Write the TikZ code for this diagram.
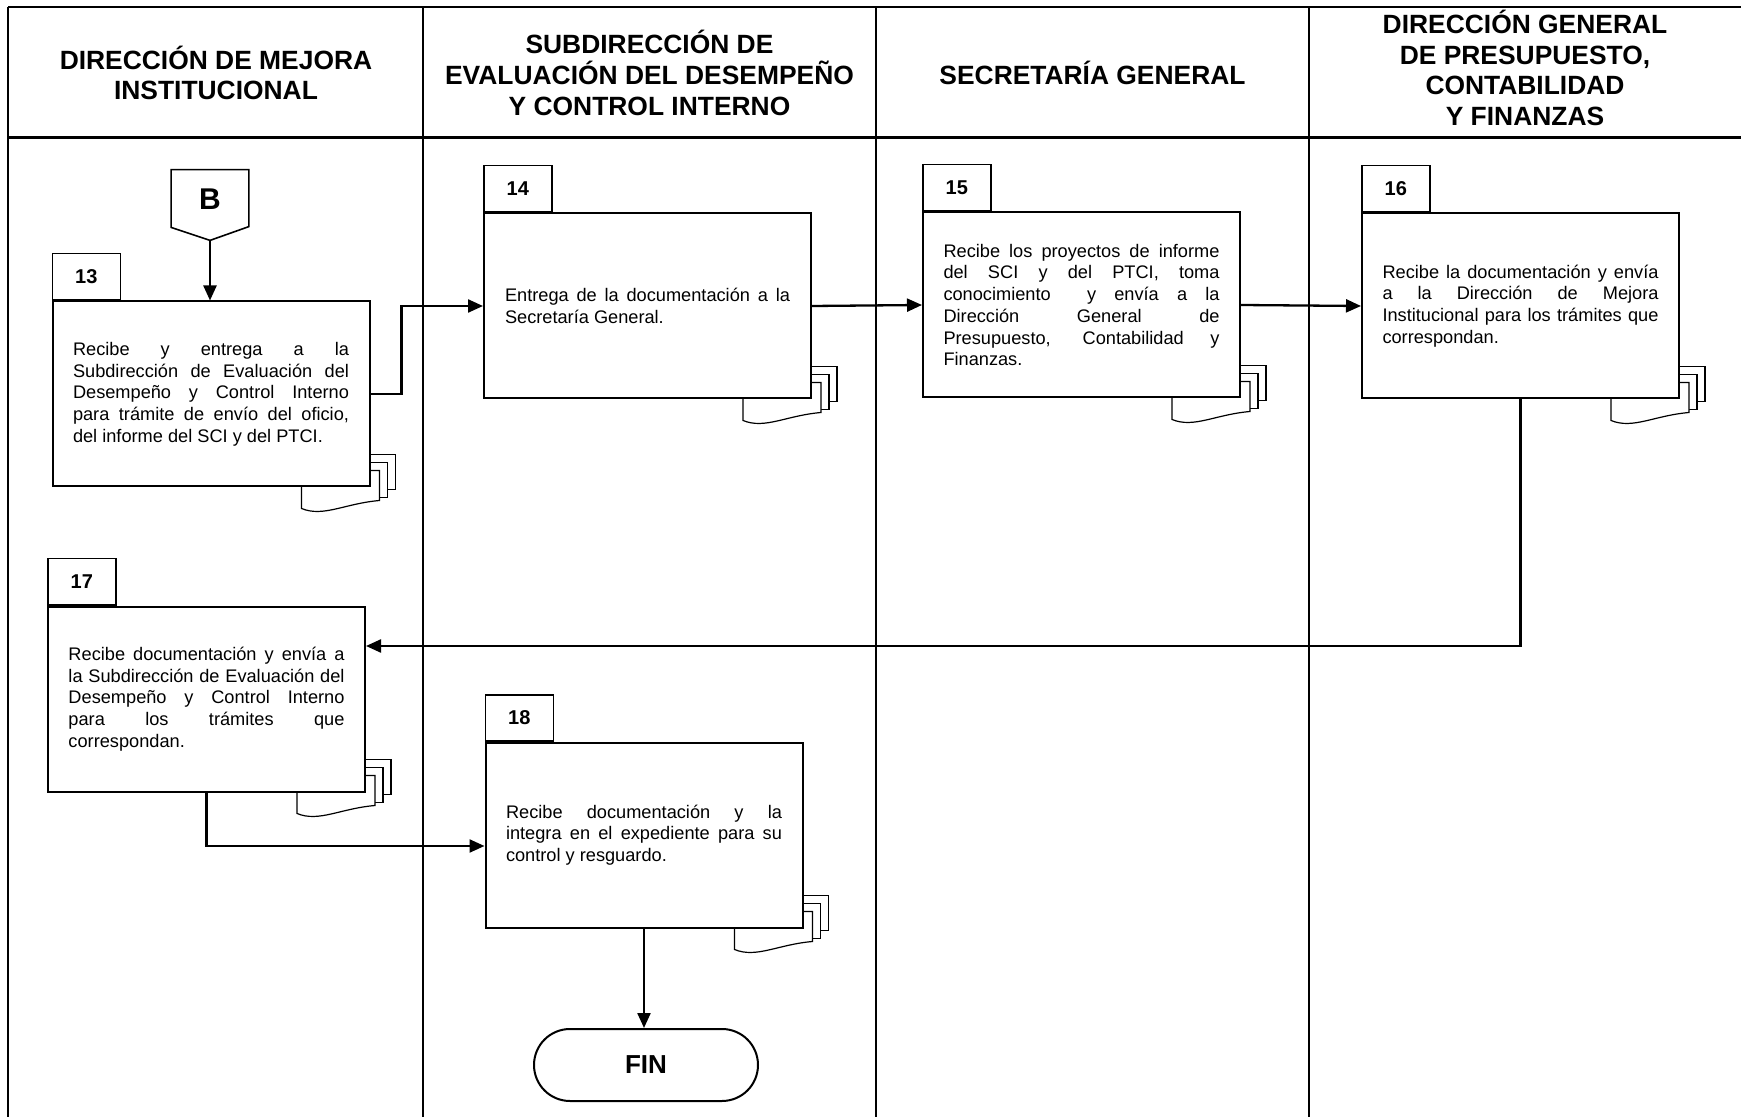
\documentclass[tikz,border=0pt]{standalone}
\usepackage{fontspec}
\setmainfont{Liberation Sans}
\usepackage{tikz}
\usetikzlibrary{arrows.meta, positioning, backgrounds}
\tolerance=10000
\hyphenpenalty=10000
\tikzstyle{arrow} = [line width=1.15pt,-{Triangle[length=7.5pt,width=6.5pt]}]
\tikzstyle{lane} = [line width=1.15pt]
\tikzstyle{head} = [align=center, font=\fontsize{13.2}{15.4}\selectfont\bfseries]
\tikzstyle{box} = [draw, line width=1pt, fill=white, inner sep=0pt, minimum width=158.5pt, minimum height=92.5pt, text width=138pt, align=justify, font=\fontsize{9.1}{10.85}\selectfont]
\tikzstyle{num} = [draw, line width=0.8pt, fill=white, inner sep=0pt, minimum width=34pt, minimum height=23pt, font=\fontsize{10}{12}\selectfont\bfseries]
\tikzstyle{page} = [draw, line width=0.6pt, fill=white]
\newcommand{\pila}[1]{%
  \draw[page] ([shift={(-53,-33)}]#1.south east) rectangle ++(78,35);
  \draw[page] ([shift={(-61,-25)}]#1.south east) rectangle ++(78,35);
  \draw[page] ([shift={(-69,-17)}]#1.south east) -- ++(0,38) .. controls +(22,9) and +(-35,3) .. ++(78,-8) -- ++(0,-30) -- cycle;}

\begin{document}
\begin{tikzpicture}[x=0.5pt, y=-0.5pt]
    \useasboundingbox (0,0) rectangle (1741,1117);
    \draw[lane] (8,7) -- (1741,7);
    \draw[lane] (8,7) -- (8,1117);
    \foreach \x in {423,876,1309} \draw[lane] (\x,7) -- (\x,1117);
    \draw[line width=1.5pt] (8,138) -- (1741,138);

    \node (h1) [head] at (216,73) {DIRECCIÓN DE MEJORA\\INSTITUCIONAL};
    \node (h2) [head] at (649.5,73) {SUBDIRECCIÓN DE\\EVALUACIÓN DEL DESEMPEÑO\\Y CONTROL INTERNO};
    \node (h3) [head] at (1092.5,73) {SECRETARÍA GENERAL};
    \node (h4) [head] at (1525,68) {DIRECCIÓN GENERAL\\DE PRESUPUESTO,\\CONTABILIDAD\\Y FINANZAS};

    \node (B) [minimum width=38.5pt, minimum height=35pt, inner sep=0pt, text depth=6pt, font=\fontsize{15}{15}\selectfont\bfseries] at (210,205) {B};
    \draw[line width=0.8pt] (B.north west) -- (B.north east) -- ++(0,57) -- (B.south) -- ([shift={(0,-13)}]B.south west) -- cycle;

    \node (b13) [box] at (211,394) {Recibe y entrega a la\linebreak Subdirección de Evaluación del\linebreak Desempeño y Control Interno\linebreak para trámite de envío del oficio,\linebreak del informe del SCI y del PTCI.};
    \node (n13) [num, above right=0pt and 0pt of b13.north west] {13};
    \node (b14) [box, minimum width=163.5pt, text width=142.5pt] at (647.5,306) {Entrega de la documentación a la\linebreak Secretaría General.};
    \node (n14) [num, above right=0pt and 0pt of b14.north west] {14};
    \node (b15) [box] at (1081.5,305) {Recibe los proyectos de informe\linebreak del SCI y del PTCI, toma\linebreak conocimiento\ \ y envía a la\linebreak Dirección General de\linebreak Presupuesto, Contabilidad y\linebreak Finanzas.};
    \node (n15) [num, above right=0pt and 0pt of b15.north west] {15};
    \node (b16) [box] at (1520.5,306) {Recibe la documentación y envía\linebreak a la Dirección de Mejora\linebreak Institucional para los trámites que\linebreak correspondan.};
    \node (n16) [num, above right=0pt and 0pt of b16.north west] {16};
    \node (b17) [box] at (206.5,699) {Recibe documentación y envía a\linebreak la Subdirección de Evaluación del\linebreak Desempeño y Control Interno\linebreak para los trámites que\linebreak correspondan.};
    \node (n17) [num, above right=0pt and 0pt of b17.north west] {17};
    \node (b18) [box] at (644,835) {Recibe documentación y la\linebreak integra en el expediente para su\linebreak control y resguardo.};
    \node (n18) [num, above right=0pt and 0pt of b18.north west] {18};
    \node (fin) [draw, line width=1pt, rounded corners=18pt, minimum width=112pt, minimum height=36pt, font=\fontsize{13}{13}\selectfont\bfseries] at (646,1065) {FIN};

    \begin{scope}[on background layer]
        \pila{b13}
        \pila{b14}
        \pila{b15}
        \pila{b16}
        \pila{b17}
        \pila{b18}
    \end{scope}

    \draw [arrow] (B.south) -- (B.south |- b13.north);
    \draw [arrow] (b13.east) -- ++(31,0) |- (b14.west);
    \draw [arrow] (b14.east) -- (b15.west);
    \draw [arrow] (b15.east) -- (b16.west);
    \draw [arrow] (b16.south) |- ([yshift=26.5pt]b17.east);
    \draw [arrow] (b17.south) |- ([yshift=-5.5pt]b18.west);
    \draw [arrow] (b18.south) -- (b18.south |- fin.north);
\end{tikzpicture}
\end{document}
